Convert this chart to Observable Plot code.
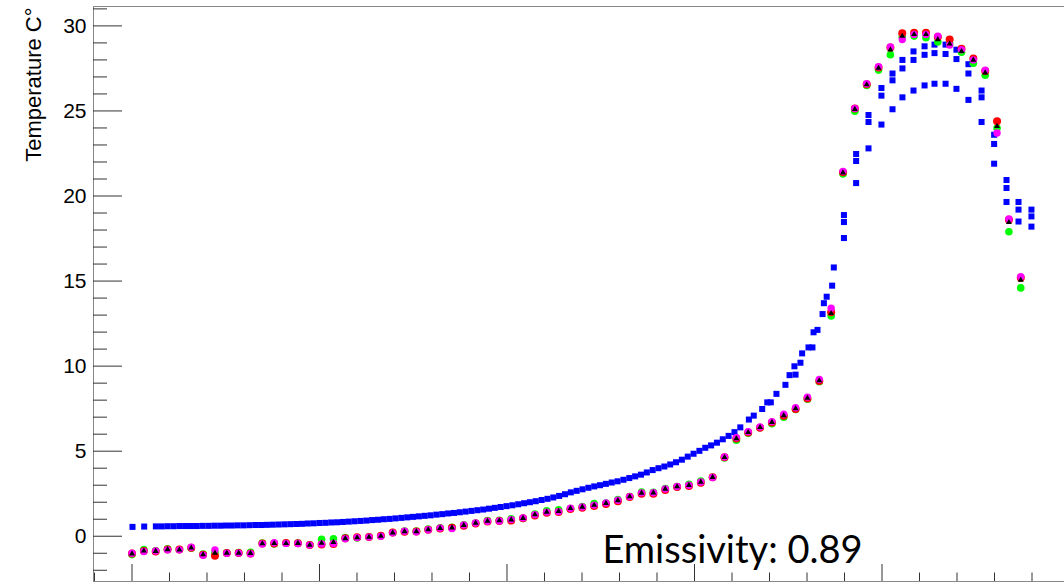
<!DOCTYPE html>
<html>
<head>
<meta charset="utf-8">
<script src="https://cdn.jsdelivr.net/npm/d3@7"></script>
<script src="https://cdn.jsdelivr.net/npm/@observablehq/plot@0.6"></script>
<style>
html, body { margin: 0; padding: 0; background: #fff; overflow: hidden; }
</style>
</head>
<body>
<div id="chart"></div>
<script>
// ---------- axis setup ----------
const xDomain = [-2.053, 49.733];
const yDomain = [-2.66, 31.14];
const yMajorTicks = [0, 5, 10, 15, 20, 25, 30];
const yMinorTicks = [-2, -1, 1, 2, 3, 4, 6, 7, 8, 9, 11, 12, 13, 14, 16, 17, 18, 19, 21, 22, 23, 24, 26, 27, 28, 29, 31];
const xMajorTicks = [0, 10, 20, 30, 40];
const xMinorTicks = [-2, 2, 4, 6, 8, 12, 14, 16, 18, 22, 24, 26, 28, 32, 34, 36, 38, 42, 44, 46, 48];
const yTitle = "Temperature C°";
const note = "Emissivity: 0.89";

// ---------- circle / triangle series (one value per step) ----------
const stepX = 0.632;
const red = [-1.02, -0.87, -0.89, -0.78, -0.78, -0.68, -1.09, -1.15, -0.98, -0.98,
  -1.02, -0.43, -0.43, -0.40, -0.41, -0.52, -0.48, -0.45, -0.12, -0.06,
  -0.04, 0.03, 0.22, 0.26, 0.28, 0.38, 0.45, 0.50, 0.62, 0.75,
  0.86, 0.90, 0.92, 1.06, 1.22, 1.38, 1.42, 1.60, 1.68, 1.78,
  1.90, 2.06, 2.30, 2.50, 2.50, 2.72, 2.90, 2.95, 3.15, 3.47,
  4.64, 5.75, 6.10, 6.38, 6.68, 7.08, 7.48, 8.10, 9.13, 13.16,
  21.39, 25.14, 26.57, 27.55, 28.73, 29.57, 29.60, 29.60, 29.35, 29.20,
  28.66, 28.08, 27.35, 24.40, 18.60, 15.20];
const magenta = [-1.00, -0.90, -0.86, -0.80, -0.80, -0.65, -1.12, -0.80, -1.00, -0.99,
  -1.03, -0.45, -0.38, -0.42, -0.43, -0.52, -0.45, -0.42, -0.15, -0.08,
  -0.05, 0.00, 0.20, 0.29, 0.26, 0.38, 0.48, 0.45, 0.66, 0.78,
  0.88, 0.90, 0.98, 1.08, 1.27, 1.42, 1.45, 1.65, 1.72, 1.83,
  1.96, 2.12, 2.33, 2.55, 2.56, 2.78, 2.92, 3.00, 3.19, 3.45,
  4.66, 5.80, 6.15, 6.42, 6.74, 7.18, 7.56, 8.18, 9.22, 13.40,
  21.45, 25.15, 26.60, 27.60, 28.76, 29.20, 29.50, 29.50, 29.40, 28.87,
  28.60, 28.00, 27.40, 23.70, 18.65, 15.25];
const green = [-1.08, -0.78, -0.86, -0.74, -0.78, -0.70, -1.05, -0.95, -0.97, -0.96,
  -0.95, -0.40, -0.45, -0.40, -0.40, -0.50, -0.18, -0.15, -0.08, -0.10,
  -0.03, 0.02, 0.22, 0.30, 0.30, 0.42, 0.50, 0.53, 0.68, 0.78,
  0.92, 0.94, 1.03, 1.05, 1.30, 1.50, 1.55, 1.63, 1.75, 1.92,
  1.95, 2.15, 2.34, 2.60, 2.58, 2.80, 2.92, 3.05, 3.25, 3.47,
  4.60, 5.65, 6.05, 6.38, 6.62, 7.00, 7.45, 8.05, 9.08, 12.95,
  21.30, 24.98, 26.50, 27.40, 28.30, 29.35, 29.40, 29.30, 29.06, 28.95,
  28.45, 27.80, 27.10, 24.00, 17.90, 14.60];
const black = [-1.03, -0.86, -0.88, -0.78, -0.80, -0.68, -1.08, -0.98, -0.98, -0.98,
  -1.00, -0.43, -0.42, -0.42, -0.41, -0.52, -0.40, -0.35, -0.13, -0.08,
  -0.05, 0.01, 0.21, 0.28, 0.28, 0.39, 0.47, 0.50, 0.65, 0.77,
  0.89, 0.92, 0.97, 1.06, 1.27, 1.43, 1.47, 1.64, 1.72, 1.83,
  1.94, 2.10, 2.33, 2.54, 2.56, 2.78, 2.92, 3.00, 3.19, 3.47,
  4.64, 5.75, 6.11, 6.40, 6.70, 7.10, 7.50, 8.12, 9.15, 13.10,
  21.37, 25.10, 26.55, 27.52, 28.60, 29.40, 29.50, 29.50, 29.20, 28.95,
  28.50, 28.00, 27.25, 24.10, 18.45, 15.06];

// ---------- blue squares ----------
// dense low part, half-step spacing
const blueLowX0 = 0.027;
const blueLowStep = 0.3117;
const blueLowY = [0.55, null, 0.57, null, 0.58, 0.58, 0.59, 0.59, 0.60, 0.60,
  0.60, 0.60, 0.61, 0.61, 0.62, 0.62, 0.63, 0.63, 0.64, 0.64,
  0.65, 0.66, 0.66, 0.67, 0.68, 0.69, 0.70, 0.71, 0.72, 0.73,
  0.75, 0.76, 0.78, 0.79, 0.81, 0.82, 0.84, 0.86, 0.88, 0.90,
  0.92, 0.95, 0.97, 1.00, 1.02, 1.05, 1.08, 1.11, 1.14, 1.17,
  1.20, 1.23, 1.27, 1.30, 1.34, 1.37, 1.41, 1.45, 1.49, 1.53,
  1.57, 1.62, 1.67, 1.72, 1.77, 1.82, 1.88, 1.94, 2.00, 2.06,
  2.13, 2.20, 2.28, 2.37, 2.47, 2.58, 2.67, 2.76, 2.85, 2.93,
  3.00, 3.08, 3.16, 3.23, 3.32, 3.42, 3.52, 3.62, 3.75, 3.89,
  4.00, 4.10, 4.22, 4.35, 4.50, 4.68, 4.85, 5.02, 5.20, 5.34,
  5.50, 5.70, 5.90, 6.12, 6.40];
// rise part, measured positions
const blueRiseX = [32.90, 33.16, 33.61, 33.88, 34.07, 34.37, 34.85, 35.07, 35.39, 35.33,
  35.65, 35.74, 36.08, 36.29, 36.35, 36.56, 36.83, 36.90, 37.05, 37.34,
  37.43, 37.97, 37.97, 37.97];
const blueRiseY = [6.86, 7.09, 7.48, 7.87, 7.87, 8.37, 8.90, 9.47, 9.50, 9.99,
  10.20, 10.75, 11.10, 11.10, 11.99, 12.13, 13.06, 13.70, 14.08, 14.73,
  15.80, 17.53, 18.47, 18.88];
// peak part, three values per column
const bluePeakX = [38.62, 39.28, 39.97, 40.56, 41.09, 41.68, 42.27, 42.80, 43.39, 43.97,
  44.61, 45.31, 45.98, 46.64, 47.28, 47.97];
const blueTop = [22.47, 24.76, 26.35, 27.20, 28.00, 28.50, 28.80, 28.90, 28.90, 28.60,
  27.75, 26.20, 23.60, 20.94, 19.65, 19.20];
const blueMid = [22.06, 24.35, 25.90, 26.80, 27.50, 28.00, 28.30, 28.40, 28.35, 28.05,
  27.20, 25.80, 23.06, 20.47, 19.20, 18.80];
const blueBot = [20.76, 22.80, 24.20, 25.10, 25.80, 26.20, 26.50, 26.60, 26.60, 26.30,
  25.65, 24.35, 21.90, 19.65, 18.50, 18.20];

// ---------- build tables ----------
const stepped = arr => arr.map((v, i) => ({x: i * stepX, y: v}));
const blueData = [
  ...blueLowY.map((v, j) => ({x: blueLowX0 + j * blueLowStep, y: v})).filter(d => d.y !== null),
  ...blueRiseX.map((x, k) => ({x, y: blueRiseY[k]})),
  ...bluePeakX.flatMap((x, k) => [
    {x, y: blueTop[k]}, {x, y: blueMid[k]}, {x, y: blueBot[k]}
  ])
];

const plotW = 1064, plotH = 584, mL = 93, mR = 0, mT = 6, mB = 3;
const innerW = plotW - mL - mR, innerH = plotH - mT - mB;

const chart = Plot.plot({
  width: plotW,
  height: plotH,
  marginLeft: mL,
  marginRight: mR,
  marginTop: mT,
  marginBottom: mB,
  style: {fontFamily: "'Liberation Sans', Arial, sans-serif", background: "#fff", color: "#000", overflow: "visible"},
  x: {domain: xDomain, axis: null},
  y: {domain: yDomain, axis: null},
  marks: [
    Plot.ruleY(yDomain, {stroke: "#888", strokeWidth: 1}),
    Plot.ruleX([xDomain[0]], {stroke: "#888", strokeWidth: 1}),
    Plot.tickY(yMajorTicks, {y: d => d, insetRight: innerW - 29, stroke: "#333"}),
    Plot.tickY(yMinorTicks, {y: d => d, insetRight: innerW - 14, stroke: "#333"}),
    Plot.tickX(xMajorTicks, {x: d => d, insetTop: innerH - 17, stroke: "#333"}),
    Plot.tickX(xMinorTicks, {x: d => d, insetTop: innerH - 8.5, stroke: "#333"}),
    Plot.axisY(yMajorTicks, {tickSize: 0, tickPadding: 7, fontSize: 21, label: null, fill: "#000"}),
    Plot.text([yTitle], {text: d => d, frameAnchor: "top-left", dx: -68, dy: 1, rotate: -90, textAnchor: "end", fontSize: 22, fill: "#000"}),
    Plot.dot(blueData, {x: "x", y: "y", symbol: "square", r: 3.4, fill: "#0000ff", stroke: "none"}),
    Plot.dot(stepped(green), {x: "x", y: "y", r: 3.8, fill: "#00ff00", stroke: "none"}),
    Plot.dot(stepped(red), {x: "x", y: "y", r: 4, fill: "#ff0000", stroke: "none"}),
    Plot.dot(stepped(magenta), {x: "x", y: "y", r: 3.7, fill: "#ff00ff", stroke: "none"}),
    Plot.dot(stepped(black), {x: "x", y: "y", symbol: "triangle", r: 2.2, fill: "#000", stroke: "none"}),
    Plot.text([note], {text: d => d, x: 25.09, y: -0.88, textAnchor: "start", fontSize: 38, fontFamily: "Lato, 'Open Sans', sans-serif", fill: "#000"})
  ]
});
document.getElementById("chart").appendChild(chart);
</script>
</body>
</html>
